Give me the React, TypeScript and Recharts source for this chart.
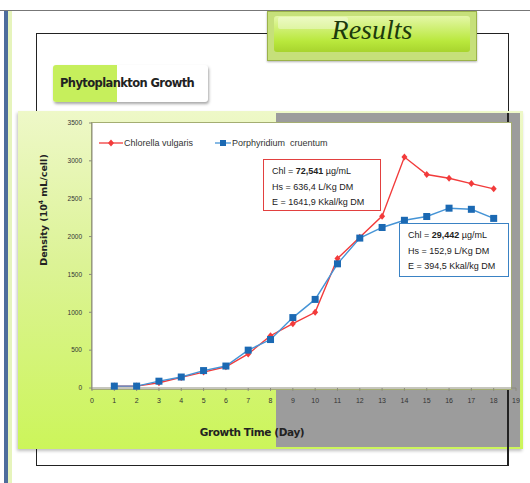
import { LineChart, Line, XAxis, YAxis, Legend } from 'recharts'

const days = [1, 2, 3, 4, 5, 6, 7, 8, 9, 10, 11, 12, 13, 14, 15, 16, 17, 18]
const chlorella = [25, 25, 70, 140, 210, 280, 450, 690, 850, 1000, 1710, 1990, 2270, 3050, 2820, 2770, 2700, 2630]
const porphyridium = [25, 25, 90, 145, 230, 290, 500, 640, 930, 1170, 1640, 1980, 2120, 2215, 2265, 2375, 2360, 2240]
const xTicks = [0, 1, 2, 3, 4, 5, 6, 7, 8, 9, 10, 11, 12, 13, 14, 15, 16, 17, 18, 19]
const yTicks = [0, 500, 1000, 1500, 2000, 2500, 3000, 3500]

const RED = '#f23b3b'
const BLUE_LINE = '#4594d6'
const BLUE_DOT = '#1b69b3'
const FONT = '"Liberation Sans", Arial, sans-serif'

const data = days.map((day, i) => ({ day, chlorella: chlorella[i], porphyridium: porphyridium[i] }))

function Diamond(props: any) {
  const { cx, cy, key } = props
  return <path key={key} d={`M${cx},${cy - 3.5}L${cx + 3},${cy}L${cx},${cy + 3.5}L${cx - 3},${cy}Z`} fill={RED} />
}

function Square(props: any) {
  const { cx, cy, key } = props
  return <rect key={key} x={cx - 3.5} y={cy - 3.5} width={7} height={7} fill={BLUE_DOT} />
}

function LegendBox() {
  return (
    <div style={{ display: 'flex', alignItems: 'center', fontSize: 9, fontFamily: FONT, color: '#333', whiteSpace: 'nowrap' }}>
      <svg width={24} height={8}>
        <line x1={0} y1={4} x2={24} y2={4} stroke={RED} strokeWidth={1.3} />
        <path d="M12,0.5L15,4L12,7.5L9,4Z" fill={RED} />
      </svg>
      <span style={{ marginLeft: 1 }}>Chlorella vulgaris</span>
      <svg width={16} height={8} style={{ marginLeft: 22 }}>
        <line x1={0} y1={4} x2={16} y2={4} stroke={BLUE_LINE} strokeWidth={1.3} />
        <rect x={5} y={1} width={6} height={6} fill={BLUE_DOT} />
      </svg>
      <span style={{ marginLeft: 1 }}>Porphyridium&nbsp;&nbsp;cruentum</span>
    </div>
  )
}

const noteText = { fontSize: 9, fontFamily: FONT, color: '#222', lineHeight: '15.5px', whiteSpace: 'nowrap' as const }

export default function App() {
  return (
    <div style={{ position: 'absolute', left: 0, top: 0, width: 530, height: 483, background: '#fff', overflow: 'hidden' }}>
      {/* slide decoration */}
      <div style={{ position: 'absolute', left: 0, top: 10, width: 530, height: 1, background: '#777' }} />
      <div style={{ position: 'absolute', left: 4, top: 11, width: 4, height: 472, background: '#4e6d9c' }} />
      <div style={{ position: 'absolute', left: 8, top: 11, width: 4, height: 472, background: '#e6f4bc' }} />
      <div style={{ position: 'absolute', left: 36, top: 33, width: 471, height: 431, border: '1.5px solid #222' }} />

      {/* Results banner */}
      <div style={{ position: 'absolute', left: 267, top: 11, width: 208, height: 48, background: '#c6e07a', border: '1px solid #9bb24a', boxShadow: '0 1px 2px rgba(0,0,0,0.3)' }}>
        <div style={{ position: 'absolute', left: 6, top: 4, width: 196, height: 36, background: 'linear-gradient(180deg, #e4f7a8 0%, #b9e83c 70%, #a8d42e 100%)', borderRadius: 3 }} />
        <div style={{ position: 'absolute', left: 10, top: 5, width: 70, height: 12, background: 'rgba(255,255,255,0.35)', borderRadius: 2 }} />
        <div style={{ position: 'absolute', left: 0, top: 2, width: 208, textAlign: 'center', fontFamily: '"Liberation Serif", serif', fontStyle: 'italic', fontSize: 28, color: '#1c3a0c' }}>Results</div>
      </div>

      {/* Section title */}
      <div style={{ position: 'absolute', left: 53, top: 65, width: 155, height: 37, background: '#fff', borderRadius: 3, boxShadow: '1px 2px 3px rgba(0,0,0,0.35)', overflow: 'hidden' }}>
        <div style={{ position: 'absolute', left: 0, top: 0, width: 64, height: 37, background: '#c6ef5c' }} />
        <div style={{ position: 'absolute', left: 7, top: 11, fontFamily: '"DejaVu Sans", sans-serif', fontWeight: 'bold', fontSize: 11.5, letterSpacing: -0.6, color: '#222' }}>Phytoplankton Growth</div>
      </div>

      {/* chart panel */}
      <div style={{ position: 'absolute', left: 18, top: 111, width: 505, height: 338, background: 'linear-gradient(180deg, #eef8c8 0%, #dcf396 45%, #ccf55a 100%)', boxShadow: '-1px 2px 3px rgba(0,0,0,0.25)' }} />
      <div style={{ position: 'absolute', left: 276, top: 113, width: 244, height: 334, background: '#9c9c9c' }} />
      <div style={{ position: 'absolute', left: 507, top: 113, width: 1.5, height: 352, background: '#222' }} />
      <div style={{ position: 'absolute', left: 91, top: 122, width: 419, height: 266, background: '#fff', border: '1px solid #a4ad72' }} />

      <div style={{ position: 'absolute', left: 43, top: 210, transform: 'translate(-50%, -50%) rotate(-90deg)', fontFamily: '"DejaVu Sans", sans-serif', fontWeight: 'bold', fontSize: 9.5, color: '#222', whiteSpace: 'nowrap' }}>
        Density (10<sup style={{ fontSize: 6 }}>4</sup> mL/cell)
      </div>
      <div style={{ position: 'absolute', left: 252, top: 432, transform: 'translate(-50%, -50%)', fontFamily: '"DejaVu Sans", sans-serif', fontWeight: 'bold', fontSize: 10.5, letterSpacing: -0.4, color: '#222', whiteSpace: 'nowrap' }}>
        Growth Time (Day)
      </div>

      <div style={{ position: 'absolute', left: 0, top: 0 }}>
        <LineChart width={530} height={483} data={data} margin={{ top: 123, right: 14, bottom: 65, left: 70 }}>
          <XAxis
            type="number"
            dataKey="day"
            domain={[0, 19]}
            ticks={xTicks}
            interval={0}
            height={30}
            tickSize={3}
            tickMargin={7}
            stroke="#8c8c7c"
            tick={{ fontSize: 7, fill: '#333', fontFamily: FONT }}
          />
          <YAxis
            type="number"
            domain={[0, 3500]}
            ticks={yTicks}
            interval={0}
            width={22}
            tickSize={3}
            tickMargin={7}
            stroke="#8c8c7c"
            tick={{ fontSize: 6.5, fill: '#333', fontFamily: FONT }}
          />
          <Legend layout="horizontal" verticalAlign="middle" align="center" content={LegendBox} wrapperStyle={{ top: 138, left: 99, width: 'auto' }} />
          <Line type="linear" dataKey="chlorella" stroke={RED} strokeWidth={1.4} dot={Diamond} isAnimationActive={false} />
          <Line type="linear" dataKey="porphyridium" stroke={BLUE_LINE} strokeWidth={1.4} dot={Square} isAnimationActive={false} />
        </LineChart>
      </div>

      {/* annotation boxes */}
      <div style={{ position: 'absolute', left: 263, top: 159, width: 118, height: 52, background: '#fff', border: '1.5px solid #e2403f', padding: '4px 0 0 8px', boxSizing: 'border-box', ...noteText }}>
        <div>Chl = <b>72,541</b> µg/mL</div>
        <div>Hs = 636,4 L/Kg DM</div>
        <div>E = 1641,9 Kkal/kg DM</div>
      </div>
      <div style={{ position: 'absolute', left: 399, top: 223, width: 110, height: 54, background: '#fff', border: '1.5px solid #3a82c4', padding: '4px 0 0 8px', boxSizing: 'border-box', ...noteText }}>
        <div>Chl = <b>29,442</b> µg/mL</div>
        <div>Hs = 152,9 L/Kg DM</div>
        <div>E = 394,5 Kkal/kg DM</div>
      </div>
    </div>
  )
}
